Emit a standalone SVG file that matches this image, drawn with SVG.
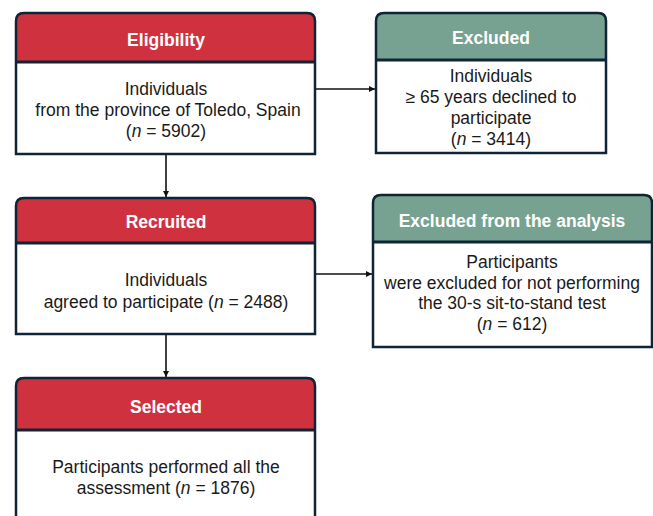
<svg xmlns="http://www.w3.org/2000/svg" width="653" height="516" viewBox="0 0 653 516">
  <style>
    .body { fill: #ffffff; }
    .red { fill: #d0313f; }
    .teal { fill: #77a190; }
    .frame { fill: none; stroke: #0f2537; stroke-width: 2.5; }
    .sep { stroke: #0f2537; stroke-width: 3; }
    .title { font-family: "Liberation Sans", Arial, sans-serif; font-size: 17.5px; font-weight: bold; fill: #ffffff; text-anchor: middle; }
    .txt { font-family: "Liberation Sans", Arial, sans-serif; font-size: 17.5px; fill: #1a1a1a; text-anchor: middle; }
    .link { stroke: #111111; stroke-width: 1.6; fill: none; marker-end: url(#arrow); }
  </style>
  <defs>
    <marker id="arrow" viewBox="0 0 10 10" refX="10" refY="5" markerWidth="6" markerHeight="6" markerUnits="userSpaceOnUse" orient="auto">
      <path d="M0,0 L10,5 L0,10 z" fill="#111111"/>
    </marker>
  </defs>
  <rect width="653" height="516" fill="#ffffff"/>

  <g id="connectors">
    <line class="link" x1="315" y1="89" x2="375" y2="89"/>
    <line class="link" x1="166" y1="154" x2="166" y2="197"/>
    <line class="link" x1="315" y1="274" x2="372" y2="274"/>
    <line class="link" x1="166" y1="334" x2="166" y2="377"/>
  </g>

  <g id="eligibility">
    <rect class="body" x="16" y="13" width="299" height="141"/>
    <path class="red" d="M16,62 V21 Q16,13 24,13 H307 Q315,13 315,21 V62 Z"/>
    <line class="sep" x1="16" y1="62" x2="315" y2="62"/>
    <path class="frame" d="M16,154 V21 Q16,13 24,13 H307 Q315,13 315,21 V154 Z"/>
    <text class="title" x="166" y="46">Eligibility</text>
    <text class="txt" x="166" y="95">Individuals</text>
    <text class="txt" x="168" y="116">from the province of Toledo, Spain</text>
    <text class="txt" x="166" y="137">(<tspan font-style="italic">n</tspan> = 5902)</text>
  </g>

  <g id="excluded">
    <rect class="body" x="376" y="13" width="230" height="140"/>
    <path class="teal" d="M376,60 V21 Q376,13 384,13 H598 Q606,13 606,21 V60 Z"/>
    <line class="sep" x1="376" y1="60" x2="606" y2="60"/>
    <path class="frame" d="M376,153 V21 Q376,13 384,13 H598 Q606,13 606,21 V153 Z"/>
    <text class="title" x="491" y="44">Excluded</text>
    <text class="txt" x="491" y="82">Individuals</text>
    <text class="txt" x="491" y="103">≥ 65 years declined to</text>
    <text class="txt" x="491" y="124">participate</text>
    <text class="txt" x="491" y="145">(<tspan font-style="italic">n</tspan> = 3414)</text>
  </g>

  <g id="recruited">
    <rect class="body" x="16" y="198" width="299" height="136"/>
    <path class="red" d="M16,243 V206 Q16,198 24,198 H307 Q315,198 315,206 V243 Z"/>
    <line class="sep" x1="16" y1="243" x2="315" y2="243"/>
    <path class="frame" d="M16,334 V206 Q16,198 24,198 H307 Q315,198 315,206 V334 Z"/>
    <text class="title" x="166" y="228">Recruited</text>
    <text class="txt" x="166" y="286">Individuals</text>
    <text class="txt" x="166" y="308">agreed to participate (<tspan font-style="italic">n</tspan> = 2488)</text>
  </g>

  <g id="excluded-analysis">
    <rect class="body" x="373" y="195" width="279" height="152"/>
    <path class="teal" d="M373,242 V203 Q373,195 381,195 H644 Q652,195 652,203 V242 Z"/>
    <line class="sep" x1="373" y1="242" x2="652" y2="242"/>
    <path class="frame" d="M373,347 V203 Q373,195 381,195 H644 Q652,195 652,203 V347 Z"/>
    <text class="title" x="512" y="227">Excluded from the analysis</text>
    <text class="txt" x="512" y="268">Participants</text>
    <text class="txt" x="512" y="289">were excluded for not performing</text>
    <text class="txt" x="512" y="309">the 30-s sit-to-stand test</text>
    <text class="txt" x="512" y="330">(<tspan font-style="italic">n</tspan> = 612)</text>
  </g>

  <g id="selected">
    <rect class="body" x="16" y="378" width="299" height="145"/>
    <path class="red" d="M16,430 V386 Q16,378 24,378 H307 Q315,378 315,386 V430 Z"/>
    <line class="sep" x1="16" y1="430" x2="315" y2="430"/>
    <path class="frame" d="M16,525 V386 Q16,378 24,378 H307 Q315,378 315,386 V525"/>
    <text class="title" x="166" y="413">Selected</text>
    <text class="txt" x="166" y="473">Participants performed all the</text>
    <text class="txt" x="166" y="494">assessment (<tspan font-style="italic">n</tspan> = 1876)</text>
  </g>
</svg>
